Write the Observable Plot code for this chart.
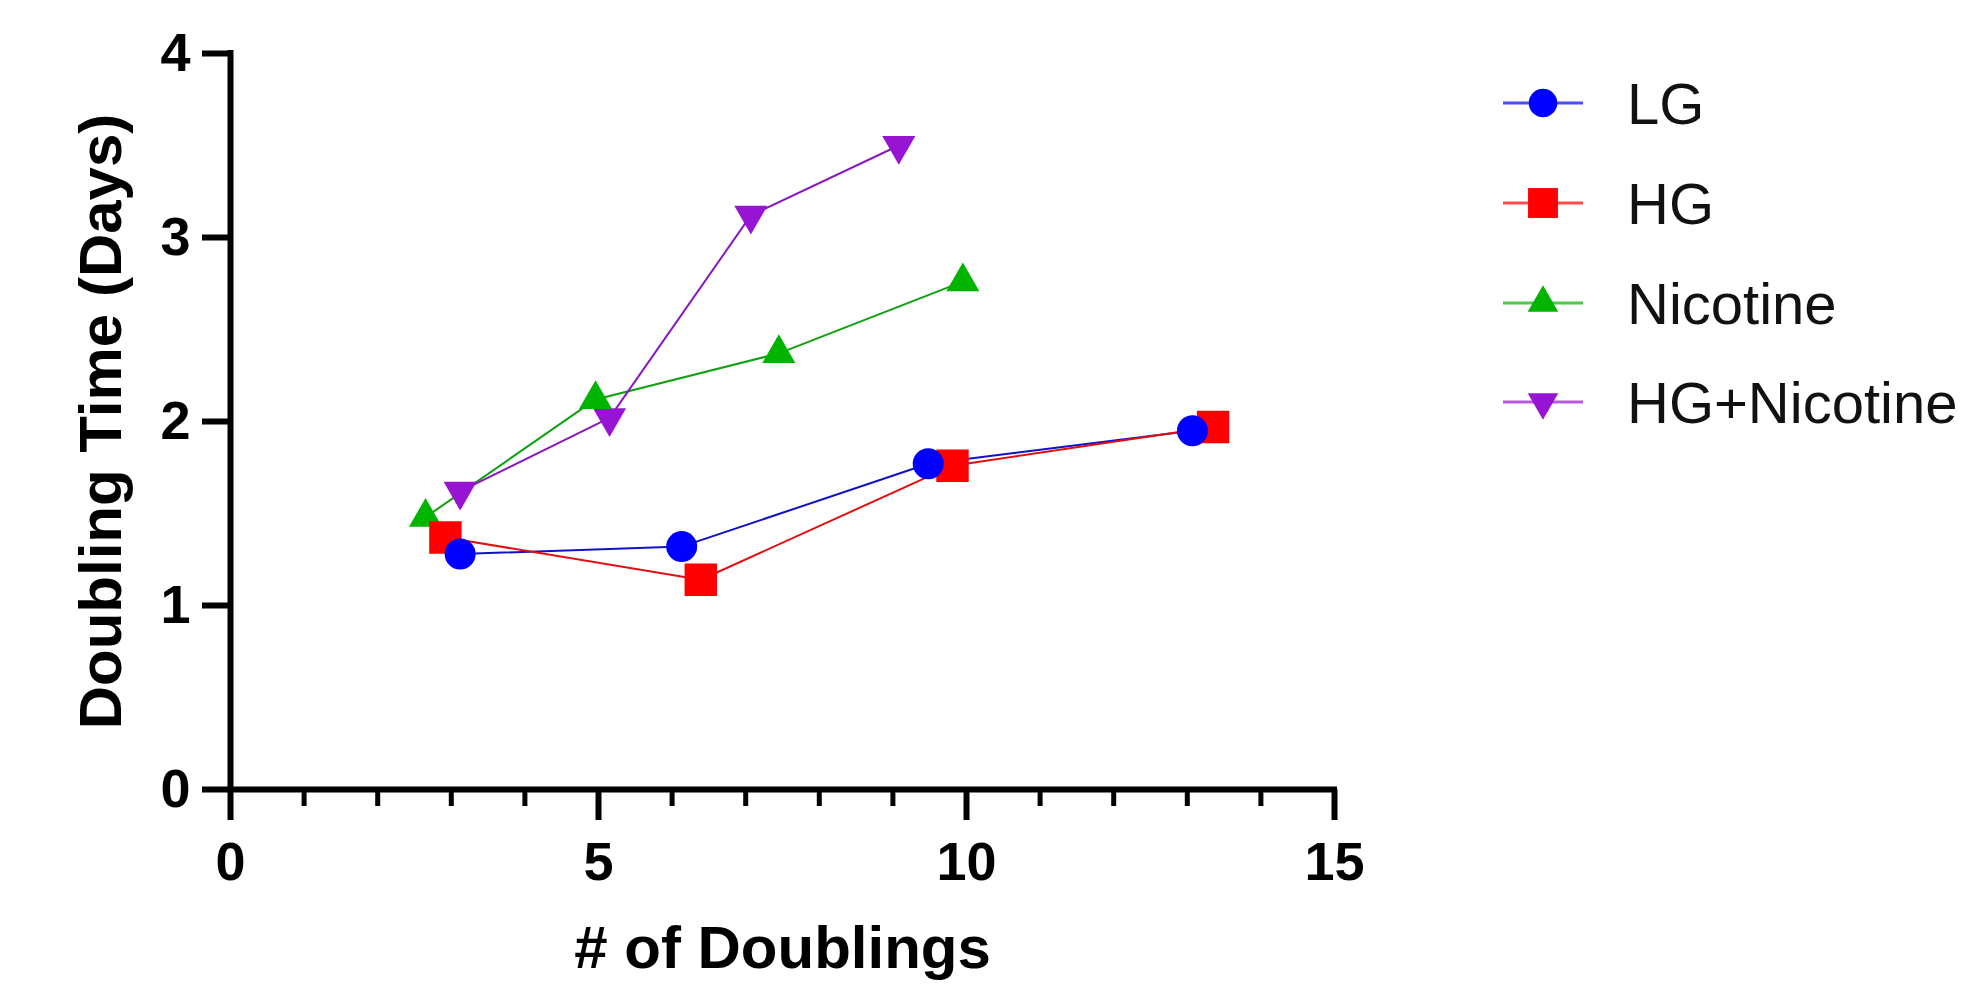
<!DOCTYPE html>
<html>
<head>
<meta charset="utf-8">
<script src="https://cdn.jsdelivr.net/npm/d3@7"></script>
<script src="https://cdn.jsdelivr.net/npm/@observablehq/plot@0.6"></script>
<style>
  html, body { margin: 0; padding: 0; background: #fff; }
  #wrap { position: relative; width: 1973px; height: 989px; overflow: hidden; }
  #chart svg text { font-weight: bold; }
  #legend { position: absolute; left: 1450px; top: 0px; }
</style>
</head>
<body>
<div id="wrap">
  <div id="chart"></div>
  <svg id="legend" width="523" height="460"></svg>
</div>
<script>
// ---- data ----
const seriesNames = ["LG", "HG", "Nicotine", "HG+Nicotine"];
const lgX = [3.12, 6.13, 9.48, 13.07];
const lgY = [1.28, 1.32, 1.77, 1.95];
const hgX = [2.92, 6.39, 9.81, 13.35];
const hgY = [1.37, 1.14, 1.76, 1.97];
const nicX = [2.65, 4.96, 7.45, 9.95];
const nicY = [1.48, 2.12, 2.37, 2.76];
const hgNicX = [3.12, 5.15, 7.07, 9.08];
const hgNicY = [1.62, 2.02, 3.12, 3.50];

const xMajorTicks = [0, 5, 10, 15];
const xMinorTicks = d3.range(0, 16);
const yTicks = [0, 1, 2, 3, 4];
const xTitle = "# of Doublings";
const yTitle = "Doubling Time (Days)";

// ---- styling ----
const colors = ["#0000FF", "#FF0000", "#00B400", "#9614D2"];
const lineColors = ["#1010C8", "#E01010", "#10A010", "#8A18C0"];
const sqrt3 = Math.sqrt(3);
const triangleDown = {
  draw(context, size) {
    const y = -Math.sqrt(size / (sqrt3 * 3));
    context.moveTo(0, -y * 2);
    context.lineTo(-sqrt3 * y, y);
    context.lineTo(sqrt3 * y, y);
    context.closePath();
  }
};
const symbols = ["circle", "square", "triangle", triangleDown];
const radii = [15.5, 18.3, 12.3, 12.3];

const xs = [lgX, hgX, nicX, hgNicX];
const ys = [lgY, hgY, nicY, hgNicY];
const series = seriesNames.map((name, i) => ({
  name, color: colors[i], lineColor: lineColors[i], symbol: symbols[i], r: radii[i],
  data: xs[i].map((x, j) => ({x, y: ys[i][j], name}))
}));

const fontFamily = "'Liberation Sans', Arial, Helvetica, sans-serif";

const lineMarks = series.map(s => Plot.line(s.data, {x: "x", y: "y", stroke: s.lineColor, strokeWidth: 2}));
const dotMarks = series.slice().reverse().map(s =>
  Plot.dot(s.data, {x: "x", y: "y", symbol: () => s.symbol, fill: s.color, stroke: "none", r: s.r})
);

const chart = Plot.plot({
  width: 1460,
  height: 989,
  marginLeft: 230,
  marginRight: 126,
  marginTop: 53,
  marginBottom: 200,
  style: {fontFamily, fontSize: "54px", color: "#000", background: "#fff", overflow: "visible"},
  x: {domain: [0, 15]},
  y: {domain: [0, 4]},
  symbol: {type: "identity"},
  marks: [
    ...lineMarks,
    ...dotMarks,
    Plot.axisX({ticks: xMinorTicks, tickSize: 17, strokeWidth: 5, fill: "none", label: null}),
    Plot.axisX({ticks: xMajorTicks, tickSize: 31, strokeWidth: 6, tickPadding: 21, fontSize: 54, fontWeight: "bold", label: null, tickFormat: d3.format("d")}),
    Plot.axisY({ticks: yTicks, tickSize: 28, strokeWidth: 6, tickPadding: 12, fontSize: 54, fontWeight: "bold", label: null, tickFormat: d3.format("d")}),
    Plot.ruleX([0], {strokeWidth: 6, strokeLinecap: "square"}),
    Plot.ruleY([0], {strokeWidth: 6, strokeLinecap: "square"}),
    Plot.text([xTitle], {frameAnchor: "bottom", textAnchor: "middle", lineAnchor: "top", dy: 136, fontSize: 60, fontWeight: "bold", fill: "#000"}),
    Plot.text([yTitle], {frameAnchor: "left", textAnchor: "middle", lineAnchor: "top", rotate: -90, dx: -152, fontSize: 60, fontWeight: "bold", fill: "#000"})
  ]
});
document.getElementById("chart").appendChild(chart);

// ---- legend ----
const leg = d3.select("#legend");
const rowY = [103, 203, 303, 402];
series.forEach((s, i) => {
  const g = leg.append("g").attr("transform", `translate(0,${rowY[i]})`);
  g.append("line").attr("x1", 53).attr("x2", 133).attr("y1", 0).attr("y2", 0)
    .attr("stroke", s.color).attr("stroke-width", 3).attr("opacity", 0.7);
  const sym = typeof s.symbol === "string"
    ? {circle: d3.symbolCircle, square: d3.symbolSquare, triangle: d3.symbolTriangle}[s.symbol]
    : s.symbol;
  g.append("path").attr("transform", "translate(93,0)")
    .attr("d", d3.symbol(sym, Math.PI * s.r * s.r * 0.85)())
    .attr("fill", s.color);
  g.append("text").attr("x", 177).attr("y", 0).attr("dy", "0.355em")
    .attr("font-family", fontFamily).attr("font-size", 58).attr("fill", "#111")
    .text(s.name);
});
</script>
</body>
</html>
